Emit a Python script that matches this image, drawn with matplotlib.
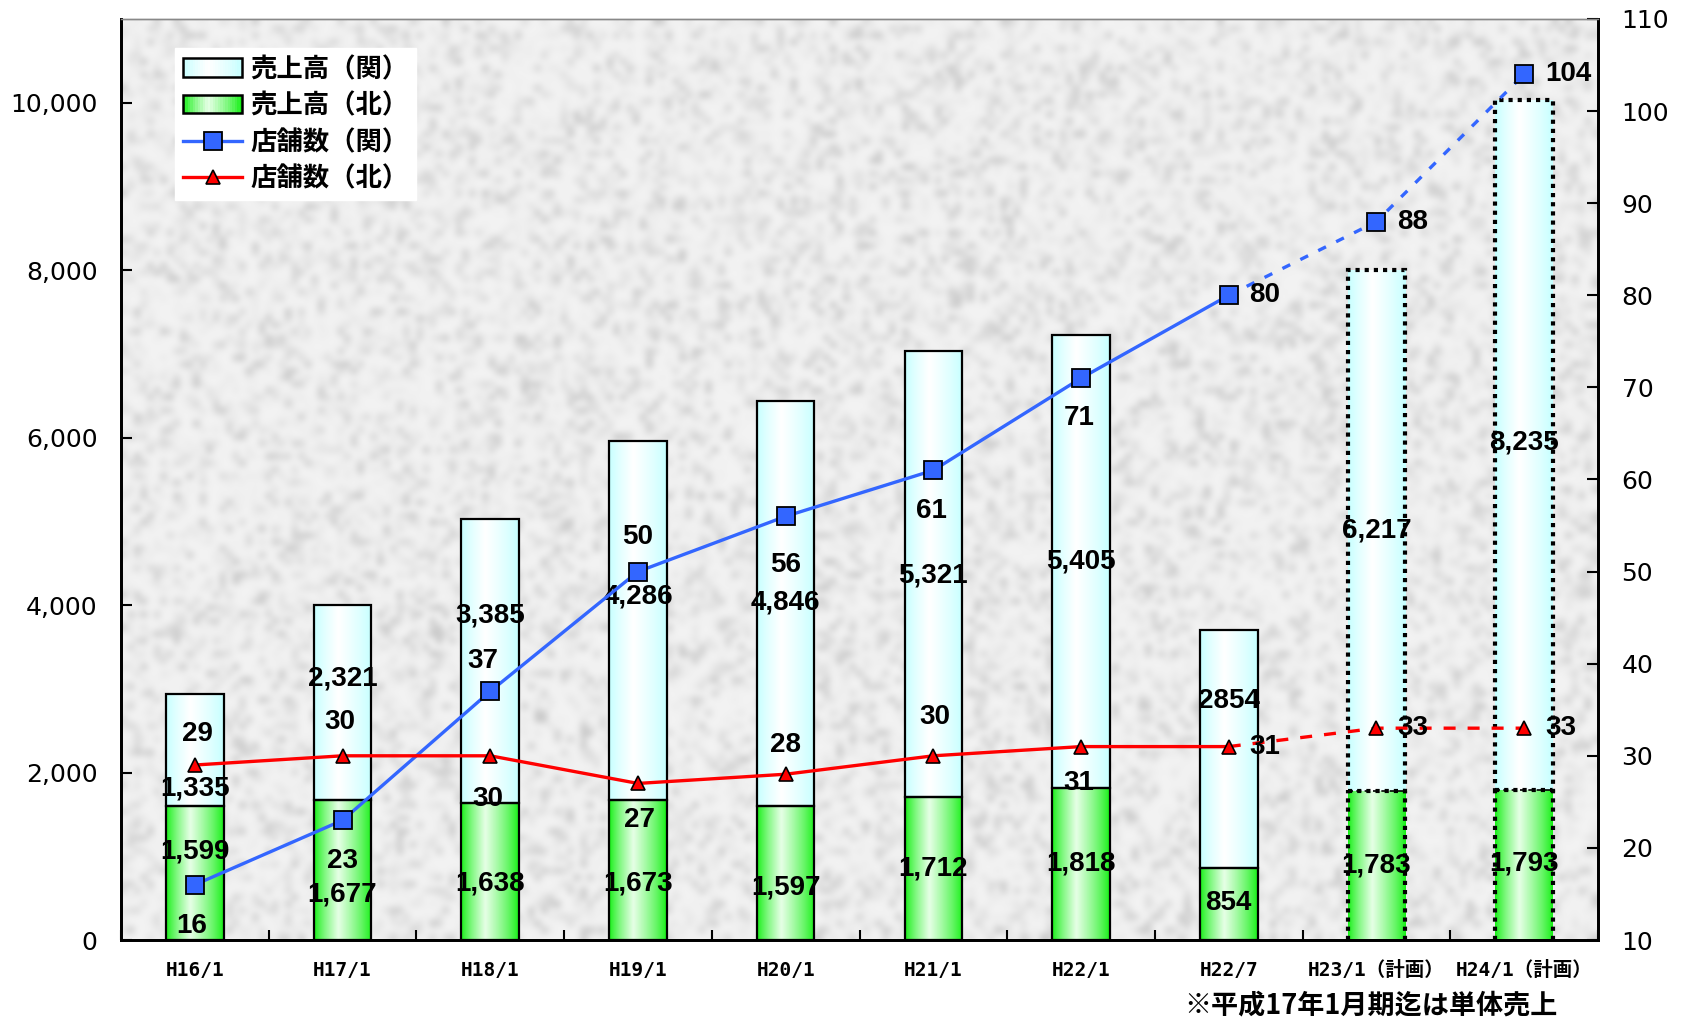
import numpy as np
import matplotlib
matplotlib.use("Agg")
import matplotlib.pyplot as plt
from matplotlib.patches import Rectangle
from matplotlib.legend_handler import HandlerBase
from matplotlib.ticker import FuncFormatter
from matplotlib.colors import to_rgb

plt.rcParams["font.family"] = ["Liberation Sans", "Noto Sans CJK JP"]

# ---- data -------------------------------------------------------------
categories = ["H16/1", "H17/1", "H18/1", "H19/1", "H20/1", "H21/1",
              "H22/1", "H22/7", "H23/1（計画）", "H24/1（計画）"]
sales_kita = [1599, 1677, 1638, 1673, 1597, 1712, 1818, 854, 1783, 1793]
sales_kan = [1335, 2321, 3385, 4286, 4846, 5321, 5405, 2854, 6217, 8235]
stores_kan = [16, 23, 37, 50, 56, 61, 71, 80, 88, 104]
stores_kita = [29, 30, 30, 27, 28, 30, 31, 31, 33, 33]
first_plan = 8          # H23/1 onward are planned figures
no_comma = {7}          # the H22/7 figure is printed without a separator

# ---- label placement --------------------------------------------------
kan_label_y = [1815, 3128, 3872, 4103, 4026, 4359, 4526, 2859, 4885, 5936]
kita_label_y = [1055, 538, 679, 679, 628, 859, 910, 436, 885, 910]
kan_cnt_off = [(-2, -30), (0, -29), (-5, 22), (0, 25), (0, -35), (-1.5, -29),
               (-1.5, -28.5), "r", "r", "r"]
kita_cnt_off = [(2, 22), (-2, 24.5), (-2, -31), (1, -26), (0, 21), (1, 28),
                (-1.5, -26), "r", "r", "r"]

GREEN_EDGE, GREEN_MID = "#14f014", "#e6ffe6"
CYAN_EDGE, CYAN_MID = "#c4ffff", "#ffffff"
BLUE, RED = "#3366ff", "#ff0000"
LABEL_FONT = dict(fontsize=20, fontweight="bold")


def gradient_rgb(edge, mid, n=64):
    """Horizontal shading: saturated at both sides, pale just left of centre."""
    t = np.linspace(0, 1, n)
    peak = 0.42
    w = np.where(t < peak, t / peak, (1 - t) / (1 - peak))
    w = np.clip(w, 0, 1) ** 0.8
    e, m = np.array(to_rgb(edge)), np.array(to_rgb(mid))
    return e[None, :] * (1 - w[:, None]) + m[None, :] * w[:, None]


class GradientPatchHandler(HandlerBase):
    def __init__(self, edge, mid):
        super().__init__()
        self.cols = gradient_rgb(edge, mid, 24)

    def create_artists(self, legend, orig_handle, xdescent, ydescent,
                       width, height, fontsize, trans):
        arts = []
        n = len(self.cols)
        for i, c in enumerate(self.cols):
            arts.append(Rectangle((-xdescent + i * width / n, -ydescent),
                                  width / n * 1.05, height, facecolor=c,
                                  edgecolor="none", transform=trans))
        arts.append(Rectangle((-xdescent, -ydescent), width, height,
                              facecolor="none", edgecolor="black", lw=1.8,
                              transform=trans))
        return arts


fig = plt.figure(figsize=(16.83, 10.23), dpi=100)
ax = fig.add_axes([121 / 1683, 1 - 940 / 1023, 1477 / 1683, 921 / 1023])
ax2 = ax.twinx()

# granite-like plot background
rng = np.random.default_rng(11)
speck = rng.random((140, 225))
tex = 0.952 - 0.17 * speck ** 4
ax.imshow(np.dstack([tex] * 3), extent=(0, 1, 0, 1), transform=ax.transAxes,
          aspect="auto", interpolation="bicubic", zorder=0)

x = np.arange(len(categories))
width = 0.39
g_cols = gradient_rgb(GREEN_EDGE, GREEN_MID)[None, :, :]
c_cols = gradient_rgb(CYAN_EDGE, CYAN_MID)[None, :, :]

bars_kita = ax.bar(x, sales_kita, width, facecolor="none", edgecolor="black",
                   lw=1.6, zorder=2)
bars_kan = ax.bar(x, sales_kan, width, bottom=sales_kita, facecolor="none",
                  edgecolor="black", lw=1.6, zorder=2)

for bars, cols in ((bars_kita, g_cols), (bars_kan, c_cols)):
    for i, b in enumerate(bars):
        x0, y0 = b.get_x(), b.get_y()
        im = ax.imshow(cols, extent=(x0, x0 + b.get_width(), y0, y0 + b.get_height()),
                       aspect="auto", interpolation="bilinear", zorder=1.5)
        im.set_clip_path(b)
        if i >= first_plan:
            b.set_linestyle((0, (1, 1.2)))
            b.set_linewidth(3)

for i, b in enumerate(bars_kita):
    if i >= first_plan:
        # dotted sides and a thin dashed seam between the two segments
        b.set_edgecolor("none")
        ax.plot([b.get_x(), b.get_x()], [0, sales_kita[i]], color="black",
                lw=3, ls=(0, (1, 1.2)), zorder=2.1)
        ax.plot([b.get_x() + width] * 2, [0, sales_kita[i]], color="black",
                lw=3, ls=(0, (1, 1.2)), zorder=2.1)
        ax.plot([b.get_x(), b.get_x() + width], [sales_kita[i]] * 2,
                color="black", lw=1.2, ls=(0, (3, 2)), zorder=2.1)

ax.set_xlim(-0.5, len(categories) - 0.5)
ax.set_ylim(0, 11000)
ax2.set_ylim(10, 110)

# sales figures
for i in range(len(categories)):
    fmt = "{}" if i in no_comma else "{:,}"
    ax.text(x[i], kan_label_y[i], fmt.format(sales_kan[i]), ha="center",
            va="center", zorder=3, **LABEL_FONT)
    ax.text(x[i], kita_label_y[i], fmt.format(sales_kita[i]), ha="center",
            va="center", zorder=3, **LABEL_FONT)

# store counts
solid = slice(0, first_plan)
plan = slice(first_plan - 1, None)
l_kan, = ax2.plot(x[solid], stores_kan[solid], color=BLUE, lw=2.4, marker="s",
                  ms=12.5, mfc=BLUE, mec="black", mew=1.3, zorder=4)
ax2.plot(x[plan], stores_kan[plan], color=BLUE, lw=2.4, ls=(0, (2.6, 3.4)),
         zorder=3.5)
ax2.plot(x[first_plan:], stores_kan[first_plan:], ls="none", marker="s",
         ms=12.5, mfc=BLUE, mec="black", mew=1.3, zorder=4)
l_kita, = ax2.plot(x[solid], stores_kita[solid], color=RED, lw=2.4, marker="^",
                   ms=10, mfc=RED, mec="black", mew=1.2, zorder=4)
ax2.plot(x[plan], stores_kita[plan], color=RED, lw=2.4, ls=(0, (3.6, 3.6)),
         zorder=3.5)
ax2.plot(x[first_plan:], stores_kita[first_plan:], ls="none", marker="^",
         ms=10, mfc=RED, mec="black", mew=1.2, zorder=4)

for vals, offs in ((stores_kan, kan_cnt_off), (stores_kita, kita_cnt_off)):
    for i, v in enumerate(vals):
        if offs[i] == "r":
            ax2.annotate(str(v), (x[i], v), xytext=(15, 0),
                         textcoords="offset points", ha="left", va="center",
                         zorder=5, **LABEL_FONT)
        else:
            ax2.annotate(str(v), (x[i], v), xytext=offs[i],
                         textcoords="offset points", ha="center", va="center",
                         zorder=5, **LABEL_FONT)

# axes styling
ax.set_yticks(range(0, 10001, 2000))
ax.yaxis.set_major_formatter(FuncFormatter(lambda v, p: f"{int(v):,}"))
ax2.set_yticks(range(10, 111, 10))
ax.set_xticks(x)
ax.set_xticklabels(categories, family=["DejaVu Sans Mono", "Noto Sans CJK JP"],
                   fontweight="bold", fontsize=14)
ax.set_xticks(np.arange(-0.5, len(categories), 1), minor=True)
ax.tick_params(axis="x", which="major", length=0, pad=15)
ax.tick_params(axis="x", which="minor", direction="in", length=7, width=1.5)
for a in (ax, ax2):
    a.tick_params(axis="y", direction="in", length=8, width=1.5,
                  labelsize=18, pad=17)
    for lab in a.get_yticklabels():
        lab.set_family(["DejaVu Sans"])
    for s in ("left", "right", "bottom"):
        a.spines[s].set_linewidth(2)
        a.spines[s].set_color("black")
    a.spines["top"].set_linewidth(1)
    a.spines["top"].set_color("#888888")

handles = [Rectangle((0, 0), 1, 1), Rectangle((0, 0), 1, 1), l_kan, l_kita]
labels = ["売上高（関）", "売上高（北）", "店舗数（関）", "店舗数（北）"]
leg = ax2.legend(handles, labels, loc="upper left",
                 bbox_to_anchor=(0.0366, 0.9685), borderaxespad=0,
                 frameon=True, fancybox=False, framealpha=1,
                 edgecolor="white", facecolor="white",
                 prop={"family": ["Noto Sans CJK JP"], "weight": "bold",
                       "size": 19},
                 handlelength=2.25, handleheight=0.7, handletextpad=0.3,
                 labelspacing=0.36, borderpad=0.3,
                 handler_map={handles[0]: GradientPatchHandler(CYAN_EDGE, "#ffffff"),
                              handles[1]: GradientPatchHandler(GREEN_EDGE, GREEN_MID)})
leg.set_zorder(10)

fig.text(1558 / 1683, 1 - 1005 / 1023, "※平成17年1月期迄は単体売上",
         ha="right", va="center", fontsize=19.5, fontweight="bold",
         family=["Noto Sans CJK JP"])

fig.savefig("out.png", dpi=100)
